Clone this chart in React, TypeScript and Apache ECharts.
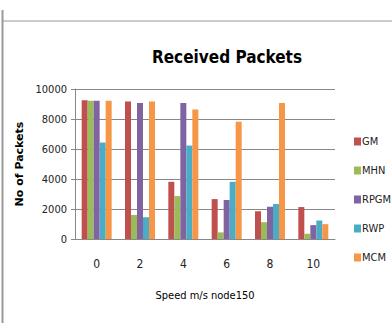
import React, { useEffect, useRef } from "react";
import * as echarts from "echarts";

const categories = ["0", "2", "4", "6", "8", "10"];
const seriesNames = ["GM", "MHN", "RPGM", "RWP", "MCM"];
const gm = [9250, 9160, 3810, 2660, 1850, 2130];
const mhn = [9210, 1600, 2860, 440, 1120, 350];
const rpgm = [9210, 9070, 9070, 2600, 2150, 925];
const rwp = [6430, 1450, 6230, 3810, 2330, 1230];
const mcm = [9210, 9160, 8630, 7820, 9070, 990];
const colors = ["#C0504D", "#9BBB59", "#8064A2", "#4BACC6", "#F79646"];

const FONT = "'DejaVu Sans Condensed', 'Liberation Sans Narrow', sans-serif";

export default function App() {
  const ref = useRef<HTMLDivElement>(null);
  useEffect(() => {
    document.body.style.margin = "0";
    const chart = echarts.init(ref.current!, null, { renderer: "svg" });
    const data = [gm, mhn, rpgm, rwp, mcm];
    chart.setOption({
      animation: false,
      backgroundColor: "#ffffff",
      title: {
        text: "Received Packets",
        left: 222,
        top: 43,
        textAlign: "center",
        textStyle: { fontFamily: FONT, fontSize: 17, fontWeight: "bold", color: "#000" },
      },
      legend: {
        orient: "vertical",
        left: 349,
        top: 131,
        itemWidth: 7,
        itemHeight: 8,
        itemGap: 18,
        icon: "rect",
        textStyle: { fontFamily: FONT, fontSize: 11, color: "#222", padding: [0, 0, 0, -4] },
        data: seriesNames,
      },
      graphic: [
        { type: "line", shape: { x1: 2.5, y1: 10, x2: 2.5, y2: 323 }, style: { stroke: "#999", lineWidth: 2 } },
        { type: "line", shape: { x1: 3, y1: 21, x2: 392, y2: 21 }, style: { stroke: "#999", lineWidth: 1 } },
      ],
      grid: { left: 75, right: 57, top: 89, bottom: 84 },
      xAxis: {
        type: "category",
        data: categories,
        name: "Speed m/s node150",
        nameLocation: "middle",
        nameGap: 51,
        nameTextStyle: { fontFamily: FONT, fontSize: 11, color: "#000" },
        axisLine: { lineStyle: { color: "#888" } },
        axisTick: { show: false },
        axisLabel: { fontFamily: FONT, fontSize: 12, color: "#222", margin: 19 },
      },
      yAxis: {
        type: "value",
        min: 0,
        max: 10000,
        interval: 2000,
        name: "No of Packets",
        nameLocation: "middle",
        nameGap: 29,
        nameTextStyle: { fontFamily: "'DejaVu Sans', sans-serif", fontSize: 11, fontWeight: "bold", color: "#000" },
        axisLine: { show: true, lineStyle: { color: "#888" } },
        axisTick: { show: true, length: 4, lineStyle: { color: "#888" } },
        axisLabel: { fontFamily: FONT, fontSize: 11, color: "#222", margin: 8, formatter: (v: number) => String(v) },
        splitLine: { lineStyle: { color: "#888" } },
      },
      series: seriesNames.map((n, i) => ({
        name: n,
        type: "bar",
        data: data[i],
        barWidth: 6,
        barGap: "0%",
        itemStyle: { color: colors[i] },
      })),
    });
    return () => chart.dispose();
  }, []);
  return <div ref={ref} style={{ width: 392, height: 323 }} />;
}
